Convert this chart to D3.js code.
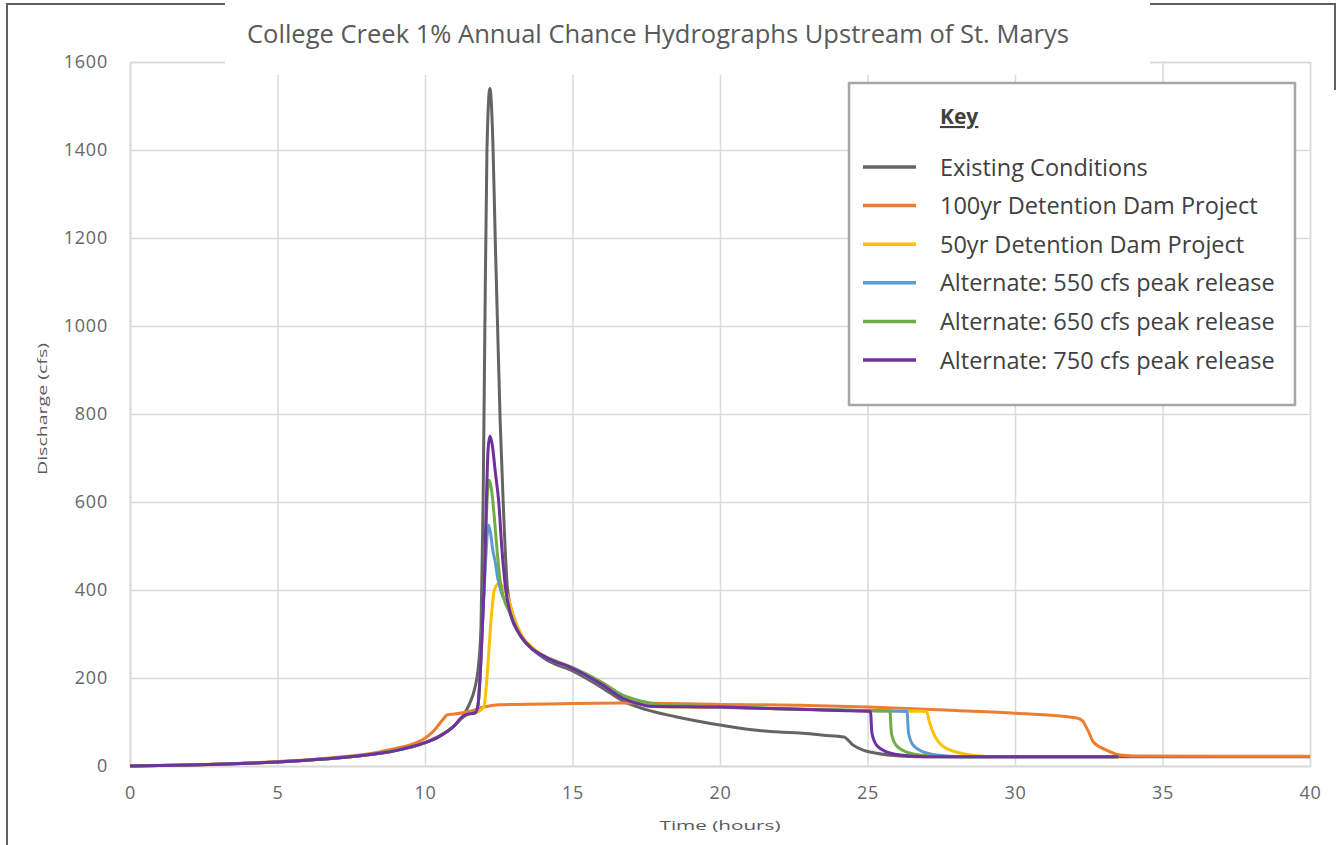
<!DOCTYPE html>
<html>
<head>
<meta charset="utf-8">
<script src="https://cdn.jsdelivr.net/npm/d3@7"></script>
<style>
  body { margin: 0; background: #fff; }
  svg { display: block; }
  text { font-family: "Open Sans", "Noto Sans", sans-serif; }
</style>
</head>
<body>
<div id="chart"></div>
<script>
// values, [hours, cfs]
const existing = [[0,0],[1,1],[2,2.5],[3,4],[4,6],[5,9],[6,13],[7,18],[8,25],[9,35],[10,53],[10.5,68],[11,92],[11.3,115],[11.5,140],[11.7,180],[11.8,220],[11.9,320],[11.97,600],[12.03,1000],[12.1,1400],[12.2,1540],[12.3,1420],[12.38,1200],[12.46,1000],[12.55,780],[12.65,600],[12.8,400],[13,340],[13.3,292],[13.7,262],[14.1,242],[15,216],[16,178],[16.7,148],[17.5,128],[18.5,112],[20,93],[21,83],[22,77],[22.7,75],[23.5,70],[24.2,66],[24.5,48],[24.85,36],[25.3,29],[26.1,23],[27.2,21],[30,21],[35,21],[40,21]]
const dam100 = [[0,0],[1,1],[2,2.5],[3,4.5],[4,7],[5,10],[6,14],[7,20],[8,27],[9,40],[9.5,48],[10,63],[10.3,80],[10.6,105],[10.75,116],[11,118],[11.5,124],[12,134],[12.5,139],[13,140],[15,142],[17,143],[20,140],[22.7,138],[25,134],[28,126],[30,120],[32.1,109],[32.3,102],[32.4,90],[32.5,77],[32.65,55],[33.1,36],[33.56,25],[34,23],[37,22],[40,22]]
const dam50 = [[0,0],[1,1],[2,2.5],[3,4],[4,6],[5,9],[6,13],[7,18],[8,25],[9,35],[10,53],[10.5,68],[11,92],[11.3,112],[11.5,119],[11.75,122],[12,135],[12.1,200],[12.24,332],[12.35,400],[12.5,415],[12.6,410],[12.8,385],[13,340],[13.3,295],[13.7,266],[14.1,247],[15,222],[16,185],[16.7,156],[17.3,142],[17.8,135],[20,133],[22,130],[24,127],[25,126],[27,124],[27.1,100],[27.2,80],[27.55,45],[28.1,30],[28.6,24],[29.5,21],[33.5,21]]
const alt550 = [[0,0],[1,1],[2,2.5],[3,4],[4,6],[5,9],[6,13],[7,18],[8,25],[9,35],[10,53],[10.5,68],[11,92],[11.3,112],[11.5,119],[11.7,121],[11.8,140],[11.88,220],[11.96,340],[12.05,460],[12.15,548],[12.22,530],[12.3,490],[12.37,468],[12.47,425],[12.6,392],[12.75,370],[12.9,345],[13.2,300],[13.6,268],[14.1,247],[15,222],[16,185],[16.7,155],[17.2,143],[17.6,137],[20,134],[22,130],[24,127],[26.34,124],[26.39,75],[26.54,48],[26.89,32],[27.34,25],[28.24,21],[33.5,21]]
const alt650 = [[0,0],[1,1],[2,2.5],[3,4],[4,6],[5,9],[6,13],[7,18],[8,25],[9,35],[10,53],[10.5,68],[11,92],[11.3,112],[11.5,119],[11.7,121],[11.8,140],[11.88,220],[11.96,340],[12.04,490],[12.11,610],[12.17,650],[12.25,630],[12.35,565],[12.43,500],[12.55,420],[12.7,375],[12.9,345],[13.2,300],[13.6,268],[14.1,248],[15,224],[16,190],[16.7,161],[17.3,148],[17.9,140],[20,135],[22,130],[24,127],[25.76,125],[25.81,75],[25.96,48],[26.31,32],[26.76,25],[27.66,21],[33.5,21]]
const alt750 = [[0,0],[1,1],[2,2.5],[3,4],[4,6],[5,9],[6,13],[7,18],[8,25],[9,35],[10,53],[10.5,68],[11,92],[11.2,108],[11.4,117],[11.7,121],[11.8,140],[11.88,220],[11.96,340],[12.03,460],[12.08,600],[12.14,720],[12.2,750],[12.28,730],[12.38,670],[12.5,600],[12.6,500],[12.72,410],[12.9,345],[13.2,300],[13.6,268],[14.1,247],[15,222],[16,185],[16.7,154],[17.2,142],[17.6,136],[20,134],[22,130],[24,126],[25.1,124],[25.15,75],[25.3,48],[25.65,32],[26.1,25],[27,21],[33.5,21]]

const seriesNames = ["Existing Conditions", "100yr Detention Dam Project", "50yr Detention Dam Project",
  "Alternate: 550 cfs peak release", "Alternate: 650 cfs peak release", "Alternate: 750 cfs peak release"]
const seriesColors = ["#646464", "#ED7D31", "#FFC000", "#5B9BD5", "#70AD47", "#7030A0"]
const seriesData = [existing, dam100, dam50, alt550, alt650, alt750]

const xTicks = [0, 5, 10, 15, 20, 25, 30, 35, 40]
const yTicks = [0, 200, 400, 600, 800, 1000, 1200, 1400, 1600]
const title = "College Creek 1% Annual Chance Hydrographs Upstream of St. Marys"

const W = 1341, H = 845
const plot = { left: 130, right: 1310, top: 62, bottom: 766 }

const svg = d3.select('#chart').append('svg')
  .attr('width', W).attr('height', H)

const x = d3.scaleLinear().domain([0, 40]).range([plot.left, plot.right])
const y = d3.scaleLinear().domain([0, 1600]).range([plot.bottom, plot.top])

// axes with gridlines
const gy = svg.append('g')
  .attr('transform', `translate(${plot.left},0)`)
  .call(d3.axisLeft(y).tickValues(yTicks).tickFormat(d3.format('d'))
    .tickSize(-(plot.right - plot.left)).tickPadding(22))
const gx = svg.append('g')
  .attr('transform', `translate(0,${plot.bottom})`)
  .call(d3.axisBottom(x).tickValues(xTicks).tickFormat(d3.format('d'))
    .tickSize(-(plot.bottom - plot.top)).tickPadding(20))

;[gx, gy].forEach(g => {
  g.select('.domain').attr('stroke', '#d9d9d9').attr('stroke-width', 1.5)
  g.selectAll('.tick line').attr('stroke', '#d9d9d9').attr('stroke-width', 1.5)
  g.selectAll('.tick text')
    .attr('fill', '#666')
    .style('font-size', '18px')
    .style('font-family', '"Open Sans", sans-serif')
    .attr('letter-spacing', '0.8px')
})

// title panel covers the top of the grid
svg.append('rect').attr('x', 225).attr('y', 0).attr('width', 925).attr('height', 75).attr('fill', '#fff')

// outer frame pieces
const frame = svg.append('g').attr('stroke', '#5f5f5f').attr('stroke-width', 2).attr('fill', 'none')
frame.append('path').attr('d', `M7,845 V4 H225`)
frame.append('path').attr('d', `M1150,4 H1335 V90`)

svg.append('text')
  .attr('x', 658).attr('y', 43)
  .attr('text-anchor', 'middle')
  .attr('fill', '#595959')
  .style('font-size', '25px')
  .attr('textLength', 822).attr('lengthAdjust', 'spacingAndGlyphs')
  .text(title)

// axis titles
svg.append('text')
  .attr('x', 720).attr('y', 830)
  .attr('text-anchor', 'middle')
  .attr('fill', '#595959')
  .style('font-size', '13px')
  .attr('textLength', 121).attr('lengthAdjust', 'spacingAndGlyphs')
  .text('Time (hours)')
svg.append('text')
  .attr('transform', 'translate(47,409) rotate(-90)')
  .attr('text-anchor', 'middle')
  .attr('fill', '#595959')
  .style('font-size', '13px')
  .attr('textLength', 132).attr('lengthAdjust', 'spacingAndGlyphs')
  .text('Discharge (cfs)')

// series
const line = d3.line()
  .x(d => x(d[0]))
  .y(d => y(d[1]))
  .curve(d3.curveMonotoneX)

svg.append('g').selectAll('path')
  .data(seriesData)
  .join('path')
  .attr('d', line)
  .attr('fill', 'none')
  .attr('stroke', (d, i) => seriesColors[i])
  .attr('stroke-width', 3)
  .attr('stroke-linejoin', 'round')

// legend
const legend = svg.append('g')
legend.append('rect')
  .attr('x', 849).attr('y', 83).attr('width', 446).attr('height', 322)
  .attr('fill', '#fff').attr('stroke', '#a6a6a6').attr('stroke-width', 2.5)
legend.append('text')
  .attr('x', 940).attr('y', 124)
  .attr('fill', '#404040')
  .style('font-size', '21px').style('font-weight', 'bold')
  .style('text-decoration', 'underline')
  .text('Key')
const rowY = d3.scalePoint().domain(seriesNames).range([167, 360])
const items = legend.selectAll('g.item')
  .data(seriesNames)
  .join('g')
  .attr('class', 'item')
  .attr('transform', d => `translate(0,${rowY(d)})`)
items.append('line')
  .attr('x1', 863).attr('x2', 916)
  .attr('stroke', (d, i) => seriesColors[i])
  .attr('stroke-width', 3.5)
items.append('text')
  .attr('x', 940).attr('y', 8.5)
  .attr('fill', '#404040')
  .style('font-size', '23.5px')
  .text(d => d)
</script>
</body>
</html>
